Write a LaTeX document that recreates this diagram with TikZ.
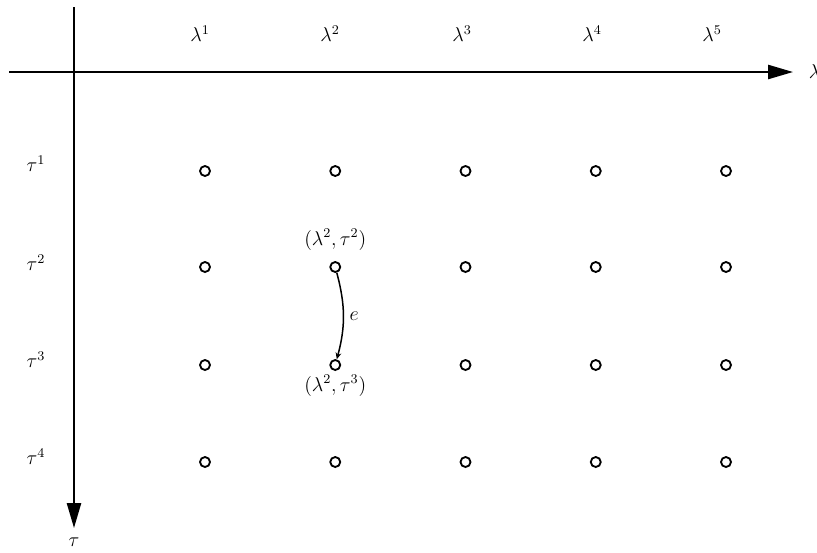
\documentclass[tikz,border=0pt]{standalone}
\usepackage{amsmath, amssymb}
\usetikzlibrary{positioning, arrows.meta}

\begin{document}
\begin{tikzpicture}[
  x=0.6pt, y=-0.6pt,
  every node/.style={font=\large},
  axis/.style={-{Triangle[length=15pt, width=8.5pt]}, line width=1.2pt},
  pt/.style={circle, draw, line width=1.1pt, minimum size=6pt, inner sep=0pt},
  arr/.style={-{Stealth[length=4pt, width=3.5pt]}, line width=0.9pt}
]
  \useasboundingbox (0,0) rectangle (817,552);

  \coordinate (xs) at (9,72);
  \coordinate (xe) at (793,72);
  \coordinate (ys) at (74,7);
  \coordinate (ye) at (74,528);
  \draw[axis] (xs) -- (xe);
  \draw[axis] (ys) -- (ye);
  \node[right=6pt of xe] (lam) {$\lambda$};
  \node[below=2.5pt of ye] (tau) {$\tau$};

  \foreach \i/\lx in {1/200, 2/330, 3/462, 4/592, 5/712}
    \node (l\i) at (\lx,34) {$\lambda^{\i}$};
  \foreach \j/\ty in {1/164, 2/263, 3/360, 4/457}
    \node (t\j) at (36,\ty) {$\tau^{\j}$};

  \foreach \i in {1,...,5}
    \foreach \j/\ty in {1/171, 2/267, 3/365, 4/462}
      \node[pt] (p\i\j) at ({205+130.25*(\i-1)},\ty) {};

  \node[above=3pt of p22] (pa) {$(\lambda^2,\tau^2)$};
  \node[below=-1pt of p23] (pb) {$(\lambda^2,\tau^3)$};
  \draw[arr] (p22) to[bend left=15] node[right] (e) {$e$} (p23);
\end{tikzpicture}
\end{document}
